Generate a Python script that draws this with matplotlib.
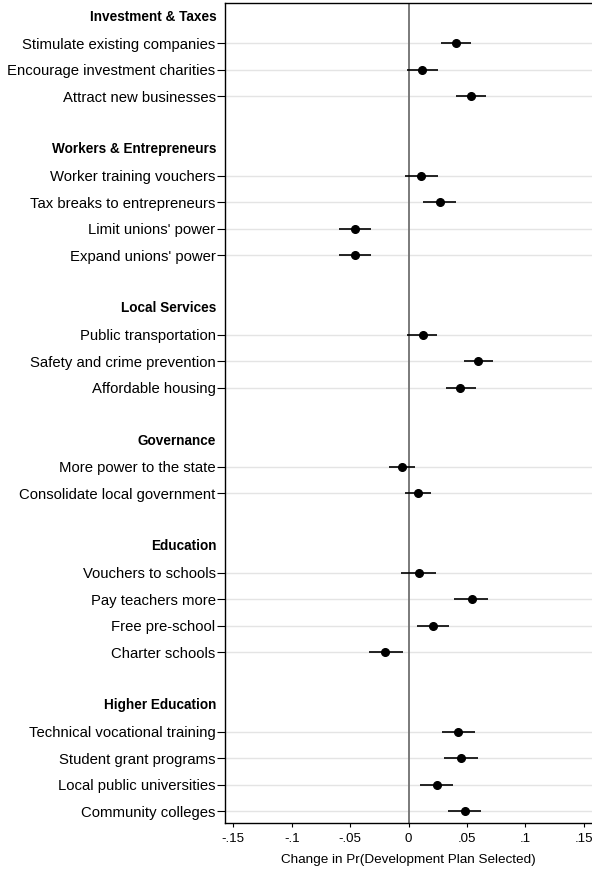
import matplotlib
matplotlib.use("Agg")
import matplotlib.pyplot as plt
from matplotlib.transforms import blended_transform_factory

plt.rcParams['font.family'] = ['Liberation Sans', 'DejaVu Sans']

# groups, items and estimates (point, lower CI, upper CI)
groups = ["Investment & Taxes", "Workers & Entrepreneurs", "Local Services",
          "Governance", "Education", "Higher Education"]
items = [
    ["Stimulate existing companies", "Encourage investment charities", "Attract new businesses"],
    ["Worker training vouchers", "Tax breaks to entrepreneurs", "Limit unions' power", "Expand unions' power"],
    ["Public transportation", "Safety and crime prevention", "Affordable housing"],
    ["More power to the state", "Consolidate local government"],
    ["Vouchers to schools", "Pay teachers more", "Free pre-school", "Charter schools"],
    ["Technical vocational training", "Student grant programs", "Local public universities", "Community colleges"],
]
est = [
    [0.0408, 0.0117, 0.0534],
    [0.0109, 0.0266, -0.0459, -0.0459],
    [0.0120, 0.0597, 0.0445],
    [-0.0057, 0.0083],
    [0.0086, 0.0540, 0.0211, -0.0197],
    [0.0423, 0.0451, 0.0243, 0.0483],
]
lo = [
    [0.0280, -0.0014, 0.0408],
    [-0.0031, 0.0126, -0.0599, -0.0599],
    [-0.0009, 0.0471, 0.0320],
    [-0.0165, -0.0028],
    [-0.0060, 0.0391, 0.0074, -0.0339],
    [0.0286, 0.0306, 0.0100, 0.0342],
]
hi = [
    [0.0534, 0.0251, 0.0662],
    [0.0251, 0.0406, -0.0317, -0.0317],
    [0.0248, 0.0722, 0.0574],
    [0.0057, 0.0194],
    [0.0237, 0.0682, 0.0351, -0.0051],
    [0.0568, 0.0594, 0.0385, 0.0622],
]
xticks = [-0.15, -0.1, -0.05, 0, 0.05, 0.1, 0.15]
xticklabels = ["-.15", "-.1", "-.05", "0", ".05", ".1", ".15"]

fig = plt.figure(figsize=(5.92, 8.71), dpi=100)
ax = fig.add_axes([225 / 592, 48 / 871, 1.0 - 225 / 592, 820 / 871])

header_rows = []
ypos, ylabels, xs, los, his = [], [], [], [], []
row = 0
for g, names, e, l, h in zip(groups, items, est, lo, hi):
    header_rows.append(row)
    row += 1
    for n, v, a, b in zip(names, e, l, h):
        ypos.append(row)
        ylabels.append(n)
        xs.append(v)
        los.append(a)
        his.append(b)
        row += 1
    row += 1

for y in ypos:
    ax.axhline(y, color='#e4e4e4', lw=1.0, zorder=0)
ax.axvline(0, color='#707070', lw=1.3, zorder=1)

ax.hlines(ypos, los, his, color='black', lw=1.2, zorder=2)
ax.plot(xs, ypos, 'o', color='black', ms=5.5, zorder=3)

tr = blended_transform_factory(ax.transAxes, ax.transData)
for g, r in zip(groups, header_rows):
    ax.annotate(g, xy=(0, r), xycoords=tr, xytext=(-6.3, 0), textcoords='offset points',
                ha='right', va='center', fontsize=9.8, fontweight='bold')

ax.set_yticks(ypos)
ax.set_yticklabels(ylabels, fontsize=10.7)
ax.set_ylim(30.45, -0.53)
ax.set_xlim(-0.1571, 0.1571)
ax.set_xticks(xticks)
ax.set_xticklabels(xticklabels, fontsize=9.5)
ax.tick_params(axis='y', length=5.8, width=0.8, pad=1)
ax.tick_params(axis='x', length=3, width=0.8, pad=4)
ax.set_xlabel("Change in Pr(Development Plan Selected)", fontsize=9.7, labelpad=7)
for s in ['left', 'bottom', 'top']:
    ax.spines[s].set_linewidth(1.0)
ax.spines['right'].set_visible(False)

fig.savefig("out.png", dpi=100)
